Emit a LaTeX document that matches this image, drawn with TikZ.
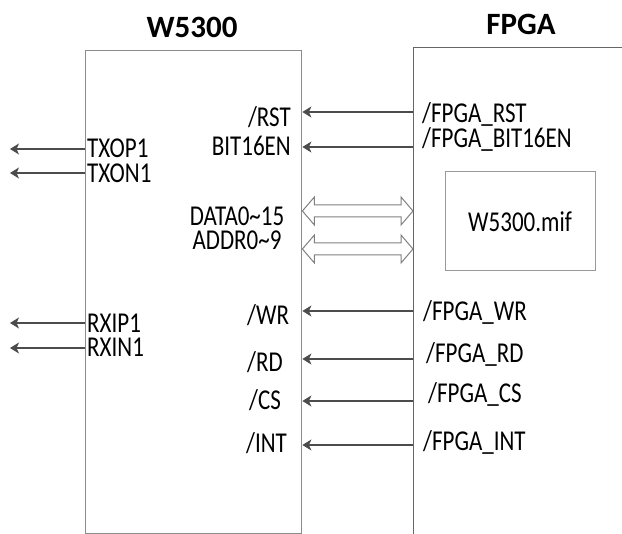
\documentclass[tikz,border=0pt]{standalone}
\usepackage{fontspec}
\setmainfont{Carlito}
\newfontfamily\lblfont[FakeStretch=0.8]{Carlito}
\usetikzlibrary{arrows.meta}
\usetikzlibrary{calc}

\tikzset{
  chip/.style={rectangle, draw=black!45, line width=1.4pt, inner sep=0, anchor=north west},
  title/.style={font=\fontsize{31}{31}\selectfont\bfseries},
  sig/.style={font={\lblfont\fontsize{28.75}{30}\selectfont}, inner sep=0, text height=18.5pt, text depth=0pt},
  wire/.style={draw=black!70, line width=1.5pt, -{Stealth[length=9pt,width=11pt,inset=2.5pt]}},
  bus/.style={draw=black!50, line width=1pt},
  busarrow/.style={to path={-- ++(12,-14) -- ++(0,8) -- ($(\tikztotarget)+(-12,-6)$) -- ++(0,-8)
      -- (\tikztotarget) -- ++(-12,14) -- ++(0,-8) -- ($(\tikztostart)+(12,6)$) -- ++(0,8) -- cycle}}
}

\begin{document}
\begin{tikzpicture}[x=1pt,y=-1pt]
            \useasboundingbox (0,0) rectangle (622,534);
            \clip (0,0) rectangle (622,534);
            % Chips
            \node[chip, minimum width=216pt, minimum height=483pt] (w5300) at (85,50) {};
            \node[chip, draw=black!60, minimum width=260pt, minimum height=490pt] (fpga) at (413,47) {};
            \node[title] (w5300title) at (192,27) {W5300};
            \node[title] (fpgatitle) at (521,24) {FPGA};

            % Control pins
            \node[sig, anchor=east] (rst) at (291,117) {/RST};
            \node[sig, anchor=east] (bit16en) at (291,146) {BIT16EN};
            \node[sig, anchor=west] (frst) at (422,113) {/FPGA\_RST};
            \node[sig, anchor=west] (fbit16en) at (422,138) {/FPGA\_BIT16EN};
            \draw[wire] (fpga.west |- 0,112) -- (w5300.east |- 0,112);
            \draw[wire] (fpga.west |- 0,147) -- (w5300.east |- 0,147);

            % Ethernet pins
            \node[sig, anchor=west] (txop) at (87,148) {TXOP1};
            \node[sig, anchor=west] (txon) at (87,173) {TXON1};
            \node[sig, anchor=west] (rxip) at (87,323) {RXIP1};
            \node[sig, anchor=west] (rxin) at (87,347) {RXIN1};
            \coordinate (txopend) at (10,149);
            \coordinate (txonend) at (10,173);
            \coordinate (rxipend) at (10,323);
            \coordinate (rxinend) at (10,348);
            \draw[wire] (w5300.west |- txopend) -- (txopend);
            \draw[wire] (w5300.west |- txonend) -- (txonend);
            \draw[wire] (w5300.west |- rxipend) -- (rxipend);
            \draw[wire] (w5300.west |- rxinend) -- (rxinend);

            % Data and address bus
            \node[sig] (data) at (237,216) {DATA0\textasciitilde15};
            \node[sig] (addr) at (237,240) {ADDR0\textasciitilde9};
            \coordinate (d1) at (w5300.east |- 0,211);
            \coordinate (d2) at (fpga.west |- 0,211);
            \coordinate (a1) at (w5300.east |- 0,249);
            \coordinate (a2) at (fpga.west |- 0,249);
            \draw[bus, busarrow] (d1) to (d2);
            \draw[bus, busarrow] (a1) to (a2);
            \node[draw=black!40, line width=1pt, minimum width=150pt, minimum height=99pt,
                  font={\lblfont\fontsize{28.75}{30}\selectfont}] (mif) at (520,221.5) {W5300.mif};

            % Strobes
            \node[sig, anchor=west] (wr) at (247,315) {/WR};
            \node[sig, anchor=west] (rd) at (247,362) {/RD};
            \node[sig, anchor=west] (cs) at (249,400) {/CS};
            \node[sig, anchor=west] (int) at (246,443) {/INT};
            \node[sig, anchor=west] (fwr) at (423,311) {/FPGA\_WR};
            \node[sig, anchor=west] (frd) at (426,353) {/FPGA\_RD};
            \node[sig, anchor=west] (fcs) at (428,393) {/FPGA\_CS};
            \node[sig, anchor=west] (fint) at (423,441) {/FPGA\_INT};
            \draw[wire] (fpga.west |- 0,311) -- (w5300.east |- 0,311);
            \draw[wire] (fpga.west |- 0,359) -- (w5300.east |- 0,359);
            \draw[wire] (fpga.west |- 0,401) -- (w5300.east |- 0,401);
            \draw[wire] (fpga.west |- 0,445) -- (w5300.east |- 0,445);
        \end{tikzpicture}
\end{document}
